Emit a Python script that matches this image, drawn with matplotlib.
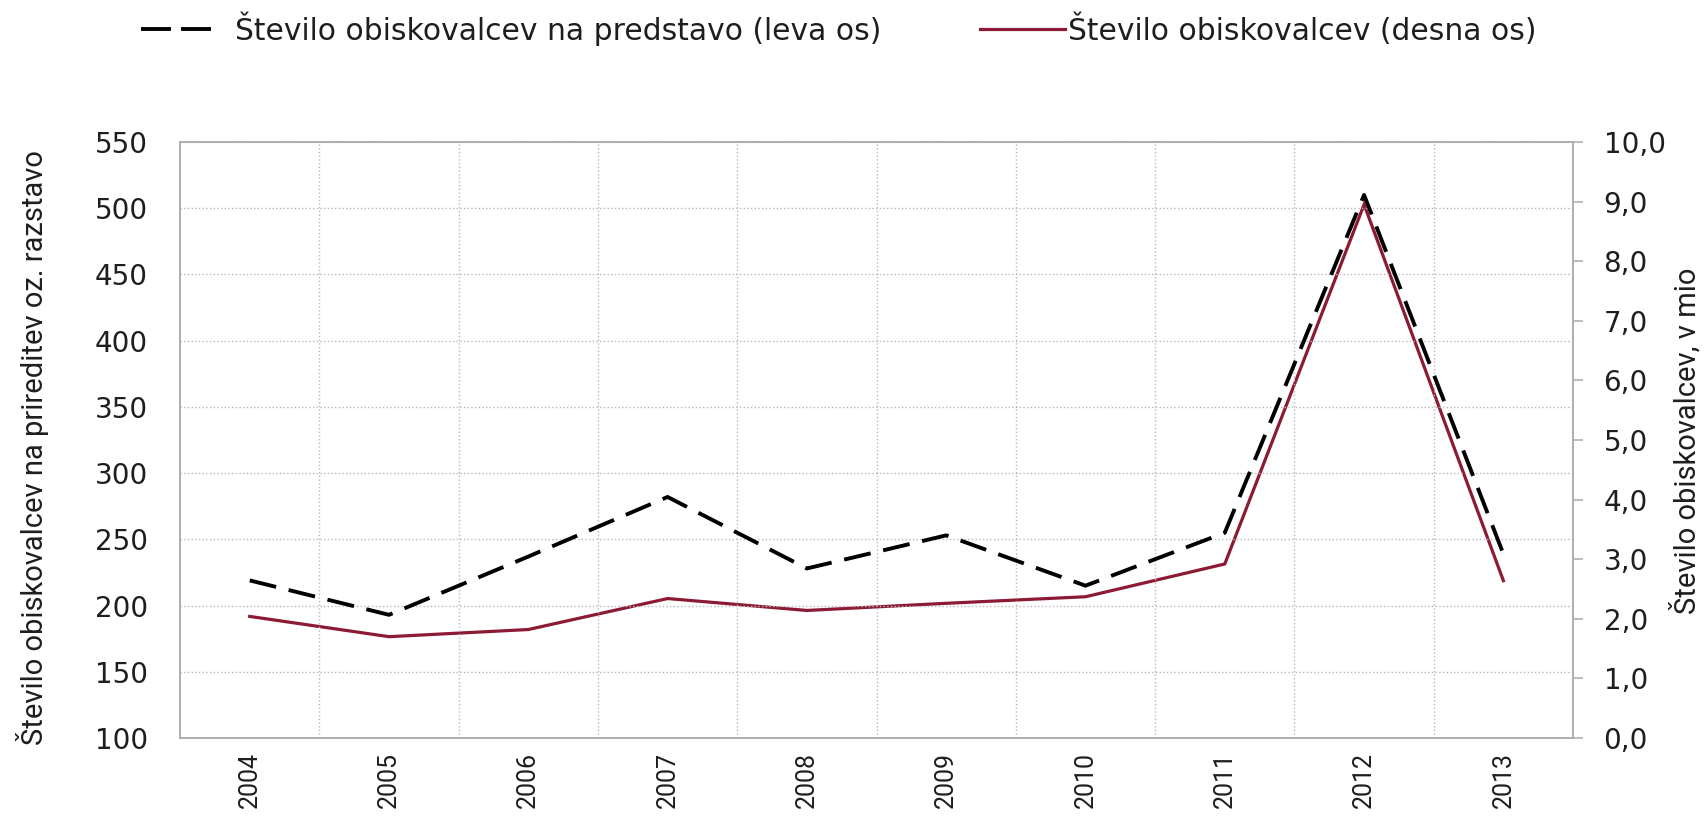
import matplotlib
matplotlib.use('Agg')
import matplotlib.pyplot as plt
from matplotlib.lines import Line2D
from matplotlib.ticker import FuncFormatter, MultipleLocator

plt.rcParams['font.family'] = ['DejaVu Sans']
narrow = ['Roboto', 'DejaVu Sans']

# data
years = ['2004', '2005', '2006', '2007', '2008', '2009', '2010', '2011', '2012', '2013']
per_event = [219, 193, 237, 282, 228, 253, 215, 255, 510, 239]          # leva os
visitors_mio = [2.04, 1.70, 1.82, 2.34, 2.14, 2.26, 2.37, 2.92, 8.95, 2.64]  # desna os

left_label = 'Število obiskovalcev na prireditev oz. razstavo'
right_label = 'Število obiskovalcev, v mio'
legend_dash = 'Število obiskovalcev na predstavo (leva os)'
legend_red = 'Število obiskovalcev (desna os)'

red = '#8c1a33'
txt = '#1e1e1e'
grid_c = '#b8b8b8'
spine_c = '#b0b0b0'

fig = plt.figure(figsize=(17.05, 8.18), dpi=100)
ax = fig.add_axes([0.1056, 0.0978, 0.8170, 0.7286])
ax2 = ax.twinx()
ax.set_zorder(2)
ax.patch.set_visible(False)

x = list(range(len(years)))

ax2.plot(x, visitors_mio, color=red, lw=2.3, solid_joinstyle='miter')
ax.plot(x, per_event, color='black', lw=2.8, dashes=(7, 3.3), solid_joinstyle='miter')

# left axis
ax.set_xlim(-0.5, len(years) - 0.5)
ax.set_ylim(100, 550)
ax.yaxis.set_major_locator(MultipleLocator(50))
ax.tick_params(axis='y', length=0, pad=23, labelsize=20, labelcolor=txt)

# categories, gridlines between them
ax.set_xticks(x)
ax.set_xticklabels(years, rotation=90, family=narrow, fontsize=18)
ax.set_xticks([i + 0.5 for i in x[:-1]], minor=True)
ax.tick_params(axis='x', which='both', length=0, pad=10, labelcolor=txt)
ax.grid(axis='y', which='major', color=grid_c, ls=':', lw=1)
ax.grid(axis='x', which='minor', color=grid_c, ls=':', lw=1)
ax.grid(axis='x', which='major', visible=False)

# right axis
ax2.set_ylim(0, 10)
ax2.yaxis.set_major_locator(MultipleLocator(1))
ax2.yaxis.set_major_formatter(FuncFormatter(lambda v, p: f'{v:.1f}'.replace('.', ',')))
ax2.tick_params(axis='y', direction='out', length=7, width=1.2, color=spine_c,
                pad=15, labelsize=20, labelcolor=txt)

for a in (ax, ax2):
    for s in a.spines.values():
        s.set_color(spine_c)
        s.set_linewidth(1.3)

fig.text(0.019, 0.453, left_label, rotation=90, ha='center', va='center',
         family=narrow, fontsize=21, color=txt)
fig.text(0.989, 0.461, right_label, rotation=90, ha='center', va='center',
         family=narrow, fontsize=21, color=txt)

# legend drawn by hand at the top
ly = 0.951
fig.add_artist(Line2D([0.0827, 0.1261], [ly + 0.013] * 2, transform=fig.transFigure,
                      color='black', lw=2.8, dashes=(7.7, 2.6)))
fig.text(0.1378, ly, legend_dash, ha='left', va='baseline', fontsize=21.4, color=txt)
fig.add_artist(Line2D([0.5748, 0.6246], [ly + 0.013] * 2, transform=fig.transFigure,
                      color=red, lw=2.3))
fig.text(0.6264, ly, legend_red, ha='left', va='baseline', fontsize=21.4, color=txt)

fig.savefig('out.png', dpi=100, facecolor='white')
